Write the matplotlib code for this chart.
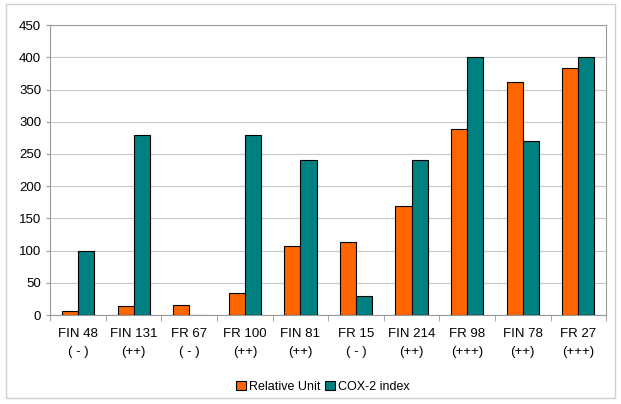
import numpy as np
import matplotlib.pyplot as plt

plt.rcParams['font.family'] = ['Liberation Sans', 'DejaVu Sans']

# samples and scores
samples = ["FIN 48", "FIN 131", "FR 67", "FR 100", "FIN 81",
           "FR 15", "FIN 214", "FR 98", "FIN 78", "FR 27"]
grades = ["( - )", "(++)", "( - )", "(++)", "(++)",
          "( - )", "(++)", "(+++)", "(++)", "(+++)"]
relative_unit = [6, 14, 16, 35, 107, 113, 169, 289, 362, 384]
cox2_index = [100, 280, 0, 280, 240, 30, 240, 400, 270, 400]

fig = plt.figure(figsize=(6.21, 4.04), dpi=100)
ax = fig.add_axes([0.081, 0.22, 0.895, 0.718])

x = np.arange(len(samples))
w = 0.29
ax.bar(x - w/2, relative_unit, w, color='#FF6600', edgecolor='black', linewidth=0.8,
       label='Relative Unit', zorder=3)
ax.bar(x + w/2, cox2_index, w, color='#008080', edgecolor='black', linewidth=0.8,
       label='COX-2 index', zorder=3)

ax.set_xlim(-0.5, len(samples) - 0.5)
ax.set_ylim(0, 450)
ax.set_yticks(np.arange(0, 451, 50))
ax.yaxis.grid(True, color='#c8c8c8', linewidth=0.8, zorder=0)

ax.set_xticks(x)
ax.set_xticklabels([s + "\n" + g for s, g in zip(samples, grades)], fontsize=9.5,
                   linespacing=1.75)
ax.tick_params(axis='x', length=0, pad=9)
ax.set_xticks(np.arange(-0.5, len(samples), 1), minor=True)
ax.tick_params(axis='x', which='minor', length=4, color='#999999')
ax.tick_params(axis='y', length=3, color='#999999', labelsize=9.5)

for s in ax.spines.values():
    s.set_color('#999999')
    s.set_linewidth(0.8)

fig.legend(loc='lower center', bbox_to_anchor=(0.52, 0.0), ncol=2, frameon=False,
           fontsize=9, handlelength=0.8, handleheight=0.8, handletextpad=0.3,
           columnspacing=0.3)

fig.patches.append(plt.Rectangle((0.01, 0.015), 0.98, 0.975, transform=fig.transFigure,
                                 fill=False, edgecolor='#d0d0d0', linewidth=1))

fig.savefig("out.png", dpi=100)
